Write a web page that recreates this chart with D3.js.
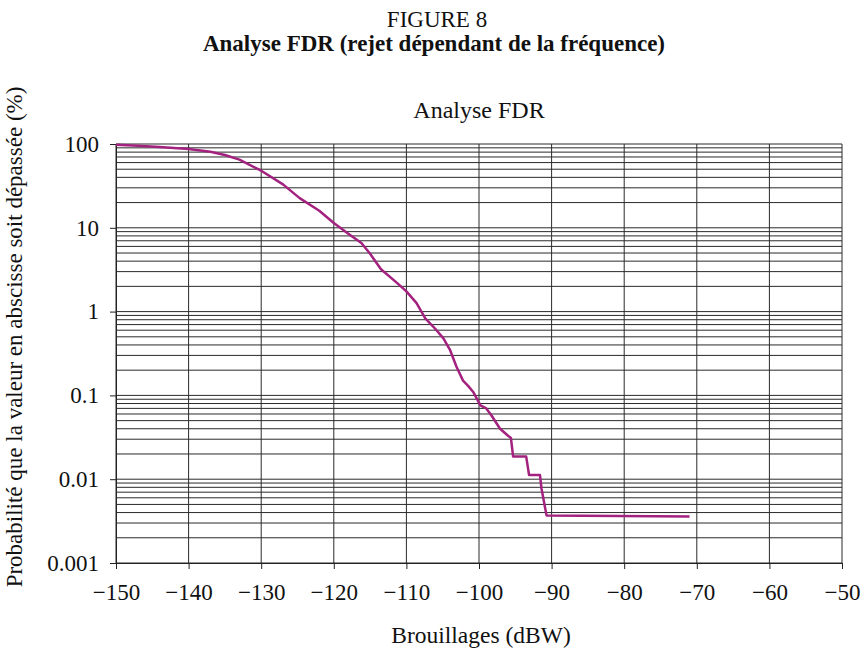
<!DOCTYPE html>
<html>
<head>
  <meta charset="utf-8">
  <title>Analyse FDR</title>
  <script src="https://d3js.org/d3.v7.min.js"></script>
  <style>
    body { margin: 0; background: #fff; }
    text { font-family: "Liberation Serif", "Times New Roman", serif; fill: #111; }
  </style>
</head>
<body>
<div id="chart"></div>
<script>
// interference level (dBW) vs probability of being exceeded (%)
var levels = [-150, -147, -144, -140, -137, -135, -133, -130, -127, -124.7, -122, -120, -118, -116.2,
  -115, -113.5, -111.3, -110, -108.6, -107.4, -106, -104.9, -104, -103.1, -102.2, -101.5, -100.8,
  -99.8, -99, -98.3, -97.1, -96, -95.6, -95.3, -93.5, -93.1, -91.6, -91.4, -90.7, -71];
var probs = [98, 95, 92, 87, 81, 74, 65, 48, 33, 22.6, 16, 11.4, 8.5, 6.6,
  4.9, 3.2, 2.2, 1.74, 1.26, 0.83, 0.62, 0.48, 0.35, 0.22, 0.15, 0.13, 0.11,
  0.076, 0.07, 0.058, 0.04, 0.033, 0.031, 0.0186, 0.0186, 0.0112, 0.0112, 0.0078, 0.0037, 0.0036];

var xTicks = [-150, -140, -130, -120, -110, -100, -90, -80, -70, -60, -50];
var yTicks = [100, 10, 1, 0.1, 0.01, 0.001];
var yTickLabels = ["100", "10", "1", "0.1", "0.01", "0.001"];

var W = 864, H = 650;
var margin = {top: 144, right: 22, bottom: 87, left: 116};
var width = W - margin.left - margin.right,
    height = H - margin.top - margin.bottom;

var svg = d3.select("#chart").append("svg")
    .attr("width", W)
    .attr("height", H);

var x = d3.scaleLinear().domain([-150, -50]).range([0, width]);
var y = d3.scaleLog().domain([0.001, 100]).range([height, 0]);

var g = svg.append("g")
    .attr("transform", "translate(" + margin.left + "," + margin.top + ")");

// minor + major horizontal grid
var hLines = [];
yTicks.slice(1).forEach(function(d) {
  for (var k = 1; k <= 9; k++) hLines.push(d * k);
});
g.selectAll(".hgrid")
  .data(hLines.concat([100]))
  .enter().append("line")
    .attr("class", "hgrid")
    .attr("x1", 0).attr("x2", width)
    .attr("y1", function(d) { return y(d); })
    .attr("y2", function(d) { return y(d); })
    .attr("stroke", "#2a2a2a")
    .attr("stroke-width", 1);

g.selectAll(".vgrid")
  .data(xTicks)
  .enter().append("line")
    .attr("class", "vgrid")
    .attr("x1", function(d) { return x(d); })
    .attr("x2", function(d) { return x(d); })
    .attr("y1", 0).attr("y2", height)
    .attr("stroke", "#2a2a2a")
    .attr("stroke-width", 1);

// axes
var xAxis = d3.axisBottom(x).tickValues(xTicks).tickSize(6).tickPadding(10);
var gx = g.append("g")
    .attr("transform", "translate(0," + height + ")")
    .call(xAxis);
gx.selectAll("text").style("font-size", "23px").attr("dy", "0.9em");

var yAxis = d3.axisLeft(y).tickValues(yTicks).tickSize(6).tickPadding(11)
    .tickFormat(function(d, i) { return yTickLabels[i]; });
var gy = g.append("g").call(yAxis);
gy.selectAll("text").style("font-size", "23px");

[gx, gy].forEach(function(a) {
  a.select(".domain").attr("stroke", "#222");
  a.selectAll(".tick line").attr("stroke", "#222");
  a.selectAll("text").style("font-family", "Liberation Serif").attr("fill", "#111");
});

// curve
var pts = levels.map(function(v, i) { return {v: v, p: probs[i]}; });
var line = d3.line()
    .x(function(d) { return x(d.v); })
    .y(function(d) { return y(d.p); });

g.append("path")
  .datum(pts)
    .attr("fill", "none")
    .attr("stroke", "#a3227f")
    .attr("stroke-width", 2.5)
    .attr("stroke-linejoin", "round")
    .attr("d", line);

// texts
svg.append("text")
    .attr("x", 437).attr("y", 27)
    .attr("text-anchor", "middle")
    .style("font-size", "23px")
    .text("FIGURE 8");

svg.append("text")
    .attr("x", 434).attr("y", 51)
    .attr("text-anchor", "middle")
    .style("font-size", "23px")
    .style("font-weight", "bold")
    .text("Analyse FDR (rejet dépendant de la fréquence)");

svg.append("text")
    .attr("x", margin.left + width / 2).attr("y", 118)
    .attr("text-anchor", "middle")
    .style("font-size", "24px")
    .text("Analyse FDR");

svg.append("text")
    .attr("x", margin.left + width / 2 + 2).attr("y", 643)
    .attr("text-anchor", "middle")
    .style("font-size", "23.5px")
    .text("Brouillages (dBW)");

svg.append("text")
    .attr("transform", "translate(22,337) rotate(-90)")
    .attr("text-anchor", "middle")
    .style("font-size", "23px")
    .text("Probabilité que la valeur en abscisse soit dépassée (%)");
</script>
</body>
</html>
